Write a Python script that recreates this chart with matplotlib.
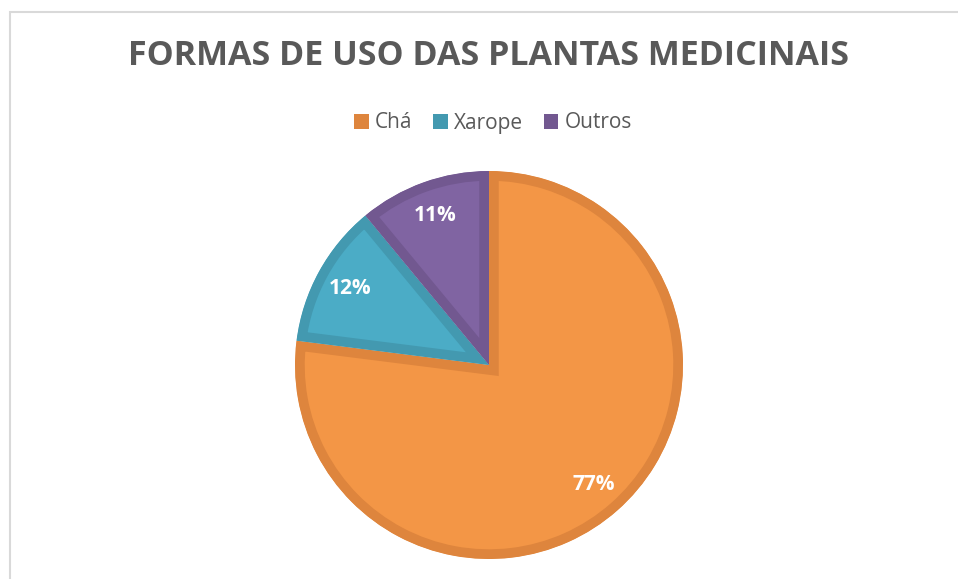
import matplotlib.pyplot as plt
from matplotlib.patches import Rectangle, Patch

plt.rcParams['font.family'] = ['Open Sans', 'DejaVu Sans']

# data
labels = ['Chá', 'Xarope', 'Outros']
values = [77, 12, 11]
fill_colors = ['#F39646', '#4BACC6', '#8064A2']
edge_colors = ['#DE853D', '#4399B0', '#725890']

W, H = 958, 579
fig = plt.figure(figsize=(W / 100, H / 100), dpi=100)

# chart frame
fig.patches.append(Rectangle((10 / W, -0.1), 1.2, (H - 12) / H + 0.1,
                             transform=fig.transFigure, fill=False,
                             edgecolor='#D9D9D9', linewidth=1.5, zorder=0))

cx, cy, r = 489, H - 365, 194
ax = fig.add_axes([(cx - r) / W, (cy - r) / H, 2 * r / W, 2 * r / H])

wedges, texts, autotexts = ax.pie(
    values, colors=fill_colors, startangle=90, counterclock=False,
    autopct='%1.0f%%', pctdistance=0.82,
    wedgeprops=dict(linewidth=14, joinstyle='miter'),
    textprops=dict(color='white', fontsize=15, fontweight='bold'))

ax.set_xlim(-1, 1)
ax.set_ylim(-1, 1)
ax.set_aspect('auto')

# keep the darker border inside each slice (pie turns clipping off)
for w, ec in zip(wedges, edge_colors):
    w.set_edgecolor(ec)
    w.set_clip_on(True)
    w.set_clip_path(w)

fig.text(488 / W, 1 - 56 / H, 'FORMAS DE USO DAS PLANTAS MEDICINAIS',
         ha='center', va='center', fontsize=24.5, fontweight='bold', color='#595959')

handles = [Patch(facecolor=c, edgecolor='none') for c in edge_colors]
fig.legend(handles, labels, loc='center', bbox_to_anchor=(493 / W, 1 - 123 / H),
           ncol=3, frameon=False, fontsize=15, labelcolor='#595959',
           handlelength=0.7, handleheight=0.7, handletextpad=0.3, columnspacing=1.0)

fig.savefig('out.png', dpi=100)
